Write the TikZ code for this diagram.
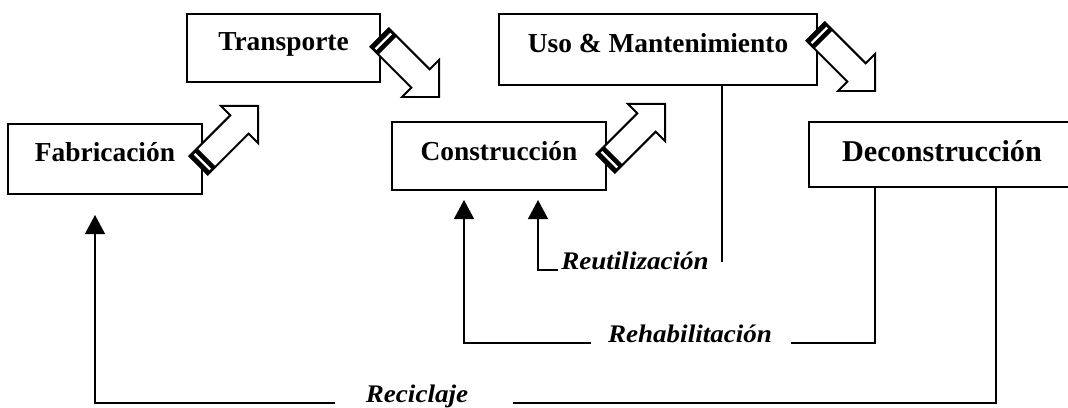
\documentclass[tikz,border=0pt]{standalone}
\usepackage{fontspec}
\setmainfont{Liberation Serif}
\newfontfamily\loopfont[FakeStretch=1.07]{Liberation Serif}
\usepackage{tikz}
\usetikzlibrary{shapes.arrows, arrows.meta}
\tikzstyle{stage} = [rectangle, draw=black, line width=1.4pt, inner sep=0pt, text height=0.7em, text depth=0.3em, font=\bfseries\fontsize{19.5}{23}\selectfont]
\tikzstyle{hollow} = [single arrow, draw=black, line width=1.4pt, fill=white, inner sep=0.3cm, minimum height=2.1cm, single arrow head extend=0.33cm, single arrow tip angle=90]
\tikzstyle{band} = [rectangle, fill=black, inner sep=0pt, minimum width=0.3cm, minimum height=0.68cm]
\tikzstyle{link} = [line width=1.4pt]
\tikzstyle{arrow} = [line width=1.4pt, -{Triangle[width=0.5cm, length=0.48cm]}]
\tikzstyle{route} = [inner sep=0pt, font=\loopfont\bfseries\itshape\fontsize{18}{21}\selectfont]

\begin{document}
\begin{tikzpicture}
	\useasboundingbox (0,0) rectangle (26.7,10.2);
	% stages
	\node (fab) [stage, minimum width=4.85cm, minimum height=1.75cm] at (2.625,6.225) {Fabricación};
	\node (trans) [stage, minimum width=4.825cm, minimum height=1.7cm] at (7.0875,9.0) {Transporte};
	\node (constr) [stage, minimum width=5.35cm, minimum height=1.7cm, text height=0.8em, text depth=0.2em] at (12.475,6.3) {Construcción};
	\node (uso) [stage, minimum width=7.95cm, minimum height=1.775cm] at (16.45,8.9625) {Uso \& Mantenimiento\hspace{0.6cm}};
	\node (decon) [stage, minimum width=6.65cm, minimum height=1.625cm, text height=1.01em, text depth=0em, font=\bfseries\fontsize{21.5}{26}\selectfont] at (23.55,6.3375) {Deconstrucción\hspace{0.5cm}};
	% hollow arrows between stages
	\node (arr1) [hollow, rotate=45, anchor=tip] at (6.475,7.575) {};
	\node (arr2) [hollow, rotate=-45, anchor=tip] at (11.0,7.75) {};
	\node (arr3) [hollow, rotate=45, anchor=tip] at (16.65,7.625) {};
	\node (arr4) [hollow, rotate=-45, anchor=tip] at (21.9,7.9) {};
	\foreach \a/\r in {arr1/45, arr2/-45, arr3/45, arr4/-45} {
		\node (\a-band) [band, rotate=\r, anchor=west] at (\a.tail) {};
		\draw [white, line width=0.06cm, shorten <=2pt, shorten >=2pt] (\a-band.north) -- (\a-band.south);
	}
	% loops back
	\node (reut) [route, anchor=base] at (15.875,3.45) {Reutilización};
	\node (rehab) [route, anchor=base] at (17.25,1.625) {Rehabilitación};
	\node (recicl) [route, anchor=base] at (10.425,0.125) {Reciclaje};
	\coordinate (reutR) at (18.05,3.65);
	\coordinate (reutX) at (13.45,0);
	\coordinate (rehabR) at (21.875,0);
	\coordinate (rehabX) at (11.6,0);
	\coordinate (reciR) at (24.9,0);
	\coordinate (reciX) at (2.375,0);
	\draw [link] (uso.south -| reutR) -- (reutR);
	\draw [arrow, shorten >=0.225cm] ([xshift=-2pt]reut.base west) -| (reutX |- constr.south);
	\draw [link] (decon.south -| rehabR) |- ([xshift=0.475cm]rehab.base east);
	\draw [arrow, shorten >=0.225cm] ([xshift=-0.425cm]rehab.base west) -| (rehabX |- constr.south);
	\draw [link] (decon.south -| reciR) |- ([xshift=1.125cm]recicl.base east);
	\draw [arrow, shorten >=0.5cm] ([xshift=-0.775cm]recicl.base west) -| (reciX |- fab.south);
\end{tikzpicture}
\end{document}
